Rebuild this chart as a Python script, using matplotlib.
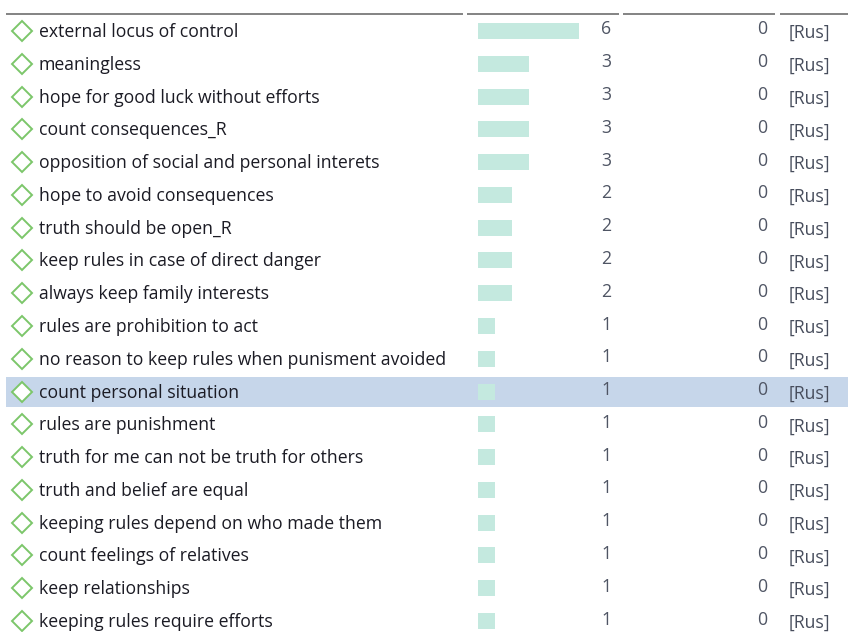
import matplotlib
matplotlib.use("Agg")
import matplotlib.pyplot as plt
from matplotlib.patches import Rectangle

labels = [
    "external locus of control",
    "meaningless",
    "hope for good luck without efforts",
    "count consequences_R",
    "opposition of social and personal interets",
    "hope to avoid consequences",
    "truth should be open_R",
    "keep rules in case of direct danger",
    "always keep family interests",
    "rules are prohibition to act",
    "no reason to keep rules when punisment avoided",
    "count personal situation",
    "rules are punishment",
    "truth for me can not be truth for others",
    "truth and belief are equal",
    "keeping rules depend on who made them",
    "count feelings of relatives",
    "keep relationships",
    "keeping rules require efforts",
]
counts = [6, 3, 3, 3, 3, 2, 2, 2, 2, 1, 1, 1, 1, 1, 1, 1, 1, 1, 1]
second = [0] * len(labels)
tags = ["[Rus]"] * len(labels)
highlight_index = 11

W, H = 848, 632
fig = plt.figure(figsize=(W / 100, H / 100), dpi=100)
ax = fig.add_axes([0, 0, 1, 1])
ax.set_xlim(0, W)
ax.set_ylim(H, 0)
ax.axis("off")

font = "Open Sans"
fs = 12.7
y0, dy = 31, 32.78
bar_x0, unit, bar_h = 478, 16.9, 16

# header separators
for xa, xb in [(6, 463), (467, 619), (623, 775), (780, 848)]:
    ax.plot([xa, xb], [14, 14], color="#7a7a7a", lw=1.3, solid_capstyle="butt")

for i, (lab, c, s, t) in enumerate(zip(labels, counts, second, tags)):
    y = y0 + i * dy
    if i == highlight_index:
        ax.add_patch(Rectangle((6, y - 15), W - 6, 30, facecolor="#c6d6ea", edgecolor="none", zorder=0))
    ax.plot([21.5], [y], marker="D", markersize=10.6, markerfacecolor="white",
            markeredgecolor="#7cc66a", markeredgewidth=1.4, zorder=3)
    ax.text(39, y + 1, lab, fontsize=fs, family=font, color="#1b1b24", va="center", ha="left")
    ax.barh(y, c * unit, left=bar_x0, height=bar_h, color="#c4e9df", zorder=2)
    ax.text(611, y - 1.5, str(c), fontsize=fs, family=font, color="#4f5564", va="center", ha="right")
    ax.text(767, y - 1.5, str(s), fontsize=fs, family=font, color="#4f5564", va="center", ha="right")
    ax.text(789, y + 2, t, fontsize=fs, family=font, color="#474d5c", va="center", ha="left")

fig.savefig("out.png", dpi=100)
